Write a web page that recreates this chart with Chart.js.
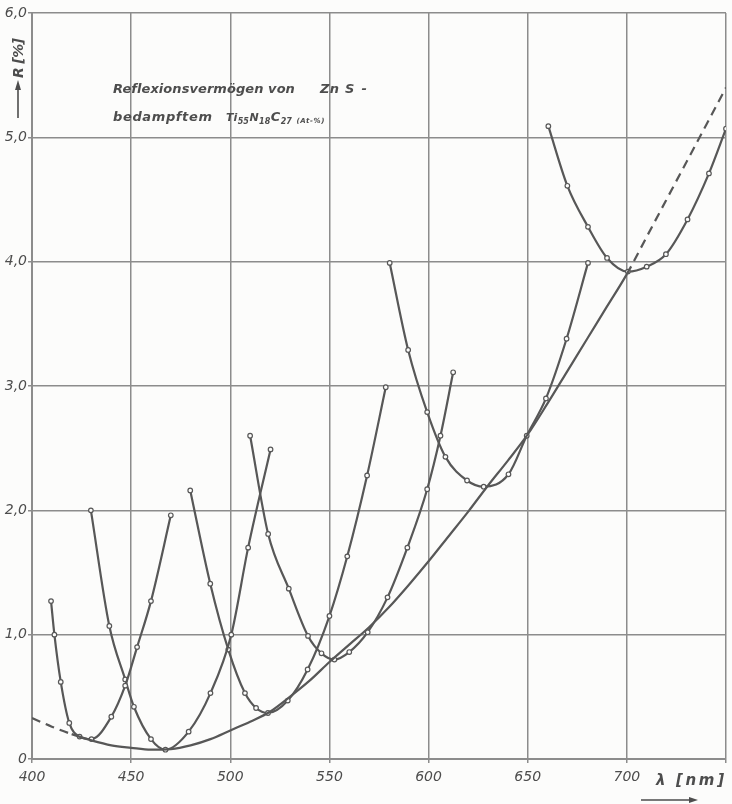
<!DOCTYPE html>
<html>
<head>
<meta charset="utf-8">
<script src="https://cdn.jsdelivr.net/npm/chart.js@4.4.1/dist/chart.umd.min.js"></script>
<style>
  html, body { margin: 0; padding: 0; background: #fcfcfb; }
  #wrap { width: 732px; height: 804px; }
</style>
</head>
<body>
<div id="wrap"><canvas id="chart" width="732" height="804"></canvas></div>
<script>
// wavelength in nm, R as printed on the axis (1,0 ... 6,0)
const yTickLabels = ["0", "1,0", "2,0", "3,0", "4,0", "5,0", "6,0"];

// lower envelope (dashed at both ends)
const envelopeX = [400, 410, 420, 430, 440, 450, 460, 470, 480, 490, 500, 510, 520, 530, 540, 550, 560, 570,
  580, 590, 600, 610, 620, 630, 640, 650, 660, 670, 680, 690, 700, 710, 720, 730, 740, 750];
const envelopeY = [0.33, 0.26, 0.20, 0.15, 0.11, 0.09, 0.075, 0.08, 0.11, 0.16, 0.23, 0.30, 0.38, 0.50, 0.63, 0.78, 0.92, 1.06,
  1.22, 1.40, 1.59, 1.79, 1.99, 2.20, 2.40, 2.61, 2.86, 3.12, 3.38, 3.64, 3.90, 4.20, 4.50, 4.80, 5.10, 5.40];

// the six measured curves
const curve1X = [409.6, 411.3, 414.5, 418.8, 424, 430, 440, 447, 453, 460, 470];
const curve1Y = [1.27, 1.0, 0.62, 0.29, 0.18, 0.16, 0.34, 0.59, 0.9, 1.27, 1.96];

const curve2X = [429.7, 439, 447, 451.4, 460, 467.3, 479, 490, 500.5, 509, 520.3];
const curve2Y = [2.0, 1.07, 0.64, 0.42, 0.16, 0.075, 0.22, 0.53, 1.0, 1.7, 2.49];

const curve3X = [479.8, 489.9, 499, 507.4, 513, 519, 529, 539, 550, 559, 569, 578.4];
const curve3Y = [2.16, 1.41, 0.88, 0.53, 0.41, 0.37, 0.47, 0.72, 1.15, 1.63, 2.28, 2.99];

const curve4X = [510, 519.1, 529.5, 539.2, 546, 552.5, 560, 569.3, 579.3, 589.3, 599.3, 606, 612.4];
const curve4Y = [2.6, 1.81, 1.37, 0.99, 0.85, 0.8, 0.86, 1.02, 1.3, 1.7, 2.17, 2.6, 3.11];

const curve5X = [580.4, 589.7, 599.3, 608.5, 619.4, 627.8, 640.3, 649.5, 659.2, 669.6, 680.4];
const curve5Y = [3.99, 3.29, 2.79, 2.43, 2.24, 2.19, 2.29, 2.6, 2.9, 3.38, 3.99];

const curve6X = [660.4, 670, 680.4, 690, 700.5, 710, 719.7, 730.6, 741.4, 750];
const curve6Y = [5.09, 4.61, 4.28, 4.03, 3.92, 3.96, 4.06, 4.34, 4.71, 5.07];

const ink = "#4d4d4d";
const lineColor = "#575757";
const gridColor = "#8c8c8c";
const fontFamily = '"DejaVu Sans", sans-serif';

const pts = (xs, ys) => xs.map((x, i) => ({ x: x, y: ys[i] }));

const curves = [
  [curve1X, curve1Y], [curve2X, curve2Y], [curve3X, curve3Y],
  [curve4X, curve4Y], [curve5X, curve5Y], [curve6X, curve6Y]
];

// draw text stretched to a given width (lettering in the original is wide)
function spreadText(ctx, text, x, y, width) {
  ctx.letterSpacing = "0px";
  const w = ctx.measureText(text).width;
  const gap = text.length > 1 ? (width - w) / (text.length - 1) : 0;
  ctx.letterSpacing = gap.toFixed(2) + "px";
  ctx.fillText(text, x, y);
  ctx.letterSpacing = "0px";
}

// formula pieces: text, font size, baseline shift
const formulaParts = [["Ti", 11, 0], ["55", 8, 3], ["N", 11, 0], ["18", 8, 3], ["C", 13, 0], ["27", 8, 3]];

const labelsPlugin = {
  id: "labels",
  afterDraw(chart) {
    const ctx = chart.ctx;
    ctx.save();
    ctx.fillStyle = ink;
    ctx.strokeStyle = ink;
    ctx.textBaseline = "alphabetic";
    ctx.textAlign = "left";

    // caption
    ctx.font = "italic bold 13px " + fontFamily;
    spreadText(ctx, "Reflexionsvermögen von", 113, 93, 182);
    spreadText(ctx, "Zn", 320, 93, 19);
    spreadText(ctx, "S -", 345, 93, 22);
    spreadText(ctx, "bedampftem", 113, 121, 99);
    let fx = 226;
    formulaParts.forEach(([t, size, dy]) => {
      ctx.font = "italic bold " + size + "px " + fontFamily;
      ctx.fillText(t, fx, 121 + dy);
      fx += ctx.measureText(t).width + 0.5;
    });
    ctx.font = "italic bold 7px " + fontFamily;
    spreadText(ctx, "(At-%)", fx + 4, 123, 28);

    // y axis title with arrow
    ctx.save();
    ctx.translate(23, 78);
    ctx.rotate(-Math.PI / 2);
    ctx.font = "italic bold 14px " + fontFamily;
    spreadText(ctx, "R [%]", 0, 0, 40);
    ctx.restore();
    ctx.lineWidth = 1.6;
    ctx.beginPath();
    ctx.moveTo(18, 118);
    ctx.lineTo(18, 88);
    ctx.stroke();
    ctx.beginPath();
    ctx.moveTo(18, 80);
    ctx.lineTo(15, 90);
    ctx.lineTo(21, 90);
    ctx.closePath();
    ctx.fill();

    // x axis title with arrow
    ctx.font = "italic bold 15px " + fontFamily;
    ctx.fillText("\u03bb", 656, 785);
    spreadText(ctx, "[nm]", 676, 785, 48);
    ctx.beginPath();
    ctx.moveTo(641, 800);
    ctx.lineTo(690, 800);
    ctx.stroke();
    ctx.beginPath();
    ctx.moveTo(698, 800);
    ctx.lineTo(689, 797);
    ctx.lineTo(689, 803);
    ctx.closePath();
    ctx.fill();
    ctx.restore();
  }
};

const datasets = [
  {
    data: pts(envelopeX, envelopeY),
    borderColor: lineColor,
    borderWidth: 2.2,
    pointRadius: 0,
    segment: {
      borderDash: c => (c.p1.parsed.x <= 420 || c.p0.parsed.x >= 700) ? [9, 6] : undefined
    }
  }
].concat(curves.map(([xs, ys]) => ({
  data: pts(xs, ys),
  borderColor: lineColor,
  borderWidth: 2.2,
  pointRadius: 2.3,
  pointBorderWidth: 1.2,
  pointBackgroundColor: "#fcfcfb",
  pointBorderColor: lineColor
})));

new Chart(document.getElementById("chart"), {
  type: "line",
  data: { datasets: datasets },
  options: {
    responsive: false,
    animation: false,
    devicePixelRatio: 1,
    layout: { padding: { top: 13, right: 1, left: 0, bottom: 0 } },
    plugins: { legend: { display: false }, tooltip: { enabled: false } },
    elements: { line: { cubicInterpolationMode: "monotone" } },
    scales: {
      x: {
        type: "linear",
        min: 400,
        max: 750,
        afterFit: s => { s.height = 45; },
        border: { color: gridColor, width: 2 },
        grid: { color: gridColor, lineWidth: 1.5, tickLength: 4 },
        ticks: {
          stepSize: 50,
          padding: 6,
          maxRotation: 0,
          autoSkip: false,
          color: ink,
          font: { family: fontFamily, style: "italic", size: 14 },
          callback: v => (v === 750 ? "" : String(v))
        }
      },
      y: {
        min: 0,
        max: 6,
        afterFit: s => { s.width = 32; },
        border: { color: gridColor, width: 2 },
        grid: { color: gridColor, lineWidth: 1.5, tickLength: 4 },
        ticks: {
          stepSize: 1,
          padding: 1,
          color: ink,
          font: { family: fontFamily, style: "italic", size: 14 },
          callback: v => yTickLabels[Math.round(v)]
        }
      }
    }
  },
  plugins: [labelsPlugin]
});
</script>
</body>
</html>
